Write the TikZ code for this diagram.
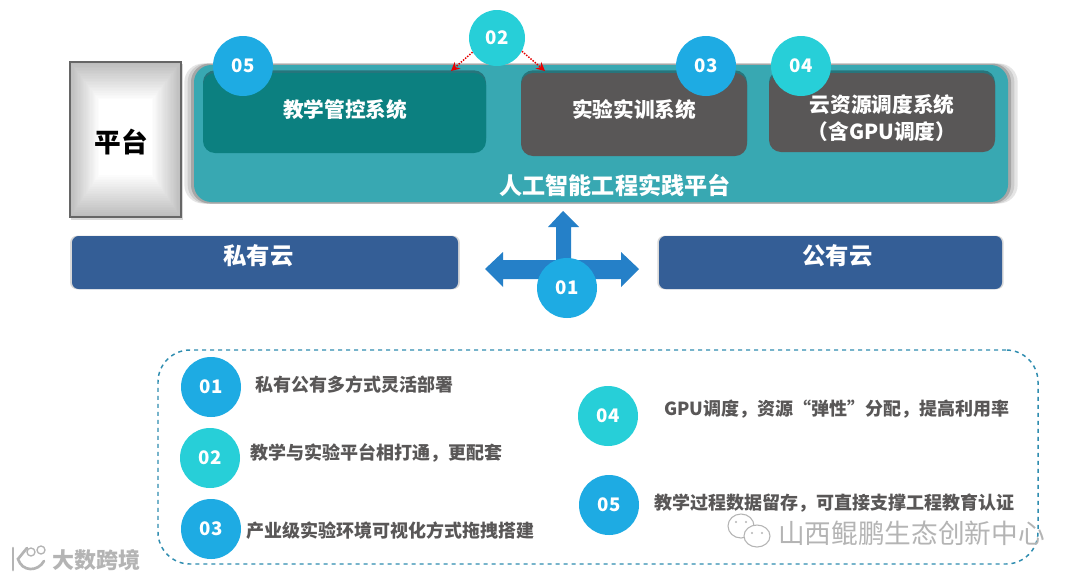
\documentclass[tikz,border=0pt]{standalone}
\usepackage{fontspec}
\setmainfont{Noto Sans CJK SC}
\usepackage{tikz}
\usetikzlibrary{calc, arrows.meta, shadows, positioning}
\definecolor{PLATteal}{HTML}{38A8B2}
\definecolor{SYSteal}{HTML}{0C8080}
\definecolor{SYSgrey}{HTML}{595757}
\definecolor{CLOUDblue}{HTML}{345E96}
\definecolor{NUMblue}{HTML}{1EABE3}
\definecolor{NUMcyan}{HTML}{27CFD8}
\definecolor{ARROWblue}{HTML}{2580C8}
\definecolor{DASHblue}{HTML}{2F8DB0}
\definecolor{TEXTgrey}{HTML}{595757}
\definecolor{MARKgrey}{HTML}{B4B4B4}

\begin{document}
\begin{tikzpicture}[x=0.75pt, y=-0.75pt]
    \tikzset{
  halobox/.style={rounded corners=14pt, minimum height=105pt, inner sep=0pt},
  sysbox/.style={rectangle, rounded corners=9pt, inner sep=0pt,
    general shadow={fill=black, opacity=0.3, shadow yshift=2pt}},
  cloudbox/.style={rectangle, rounded corners=5pt, fill=CLOUDblue, inner sep=0pt,
    general shadow={fill=black, opacity=0.15, shadow scale=1.01}},
  boxtext/.style={text=white, font=\fontsize{15.5}{20}\selectfont\bfseries, align=center, inner sep=0pt},
  cloudtext/.style={text=white, font=\fontsize{17.5}{21}\selectfont\bfseries, inner sep=0pt},
  numblue/.style={circle, fill=NUMblue, text=white, minimum size=45pt, inner sep=0pt,
    font=\fontsize{14}{16}\selectfont\bfseries},
  numcyan/.style={numblue, fill=NUMcyan},
  linkarrow/.style={red!90!black, densely dotted, line width=1.1pt, -{Stealth[length=6.5pt, width=6.5pt]}},
  itemtext/.style={text=TEXTgrey, font=\fontsize{13.5}{16}\selectfont\bfseries, anchor=west, inner sep=0pt},
  marktext/.style={text=MARKgrey, inner sep=0pt},
}
\useasboundingbox (0,0) rectangle (1080,579);
\fill[white] (0,0) rectangle (1080,579);

% ── Left card ─────────────────────────────────────────────────
\fill[black!25, opacity=0.6] (71,64) rectangle (183,220);
\foreach \i in {0,...,24}{
  \pgfmathsetmacro{\shade}{26-26*\i/24}
  \fill[black!\shade] ({70+\i*1.2},{62+\i*1.55}) rectangle ({181-\i*1.2},{217-\i*1.75});
}
\node[draw=black!60, line width=1.2pt, minimum width=83.25pt, minimum height=116.25pt,
      inner sep=0pt] (card) at (125.5,139.5) {};
\node[text=black, font=\fontsize{20}{22}\selectfont\bfseries, inner sep=0pt] (cardtext) at (121,142) {平台};

% ── Platform ──────────────────────────────────────────────────
\node[halobox, fill=black!10, minimum width=625pt] (halo3) at (601,133.5) {};
\node[halobox, fill=black!20, minimum width=620pt] (halo2) at (601,133.5) {};
\node[halobox, fill=black!35, minimum width=615pt] (halo1) at (601,133.5) {};
\node[fill=PLATteal, rounded corners=13pt, minimum width=610.5pt, minimum height=102.75pt,
      inner sep=0pt] (plat) at (601,133.5) {};
\node[boxtext, font=\fontsize{17.3}{20}\selectfont\bfseries] (plattext) at (615,185) {人工智能工程实践平台};

% ── Systems ───────────────────────────────────────────────────
\node[sysbox, fill=SYSteal, minimum width=212.25pt, minimum height=60pt] (sysA) at (344.5,113) {};
\node[sysbox, fill=SYSgrey, minimum width=169.5pt, minimum height=62.25pt] (sysB) at (634,114.5) {};
\node[sysbox, fill=SYSgrey, minimum width=169.5pt, minimum height=59.25pt] (sysC) at (882,112.5) {};
\node[boxtext] (textA) at (345,110) {教学管控系统};
\node[boxtext] (textB) at (634,110) {实验实训系统};
\node[boxtext] (textC) at (882,118) {云资源调度系统\\（含GPU调度）};

% ── Clouds ────────────────────────────────────────────────────
\node[cloudbox, minimum width=289.5pt, minimum height=39.75pt] (priv) at (265,262.5) {};
\node[cloudbox, minimum width=257.25pt, minimum height=39.75pt] (pub) at (830.5,262.5) {};
\node[cloudtext] (privtext) at (258.5,256) {私有云};
\node[cloudtext] (pubtext) at (837.5,256) {公有云};

% ── Deployment arrow ──────────────────────────────────────────
\fill[ARROWblue] (485,269) -- (503,252) -- (503,260) -- (556,260) -- (556,227) -- (548,227)
  -- (563,211) -- (579,227) -- (571,227) -- (571,260) -- (621,260) -- (621,252) -- (639,269)
  -- (621,287) -- (621,279) -- (503,279) -- (503,287) -- cycle;

% ── Numbered circles on the diagram ───────────────────────────
\node[numblue] (top5) at (243,66) {05};
\node[numcyan, minimum size=42pt] (top2) at (497,38) {02};
\node[numblue] (top3) at (706,66) {03};
\node[numcyan] (top4) at (801,66) {04};
\node[numblue] (top1) at (567,288) {01};

\coordinate (tipA) at (451,71);
\coordinate (tipB) at (545,71);
\draw[linkarrow] (top2.210) -- (tipA);
\draw[linkarrow] (top2.332) -- (tipB);

% ── Summary panel ─────────────────────────────────────────────
\node[draw=DASHblue, dashed, line width=1.1pt, rounded corners=24pt, minimum width=660pt,
      minimum height=160.5pt, inner sep=0pt] (panel) at (598,457) {};

\node[numblue] (item1) at (211,387) {01};
\node[numcyan] (item2) at (210,458) {02};
\node[numblue] (item3) at (211,529) {03};
\node[numcyan] (item4) at (608,416) {04};
\node[numblue] (item5) at (609,505) {05};

\node[itemtext] (text1) at (255,385) {私有公有多方式灵活部署};
\node[itemtext] (text2) at (250,453) {教学与实验平台相打通，更配套};
\node[itemtext] (text3) at (246,531) {产业级实验环境可视化方式拖拽搭建};
\node[itemtext] (text4) at (664,409) {GPU调度，资源“弹性”分配，提高利用率};
\node[itemtext] (text5) at (654,503) {教学过程数据留存，可直接支撑工程教育认证};

% ── Watermarks ────────────────────────────────────────────────
\node[marktext, anchor=west, font=\fontsize{20}{22}\selectfont] (markB) at (778,533) {山西鲲鹏生态创新中心};
\filldraw[MARKgrey, fill=white, line width=0.8pt] (741,526) ellipse (13 and 12);
\filldraw[MARKgrey, fill=white, line width=0.8pt] (757,536) ellipse (13 and 11);
\fill[MARKgrey] (736,522) circle (1.2) (746,522) circle (1.2) (752,533) circle (1.2) (762,533) circle (1.2);

\node[marktext, anchor=west, font=\fontsize{16.5}{19}\selectfont\bfseries] (markA) at (52,560) {大数跨境};
\draw[MARKgrey, line width=2pt, line cap=round] (13,548) -- (13,570);
\draw[MARKgrey, line width=2pt, line cap=round] (27,548) -- (18,559) .. controls (22,572) and (38,572) .. (44,561);
\draw[MARKgrey, line width=1pt] (31,552) circle (4) (41,550) circle (4);

  \end{tikzpicture}
\end{document}
